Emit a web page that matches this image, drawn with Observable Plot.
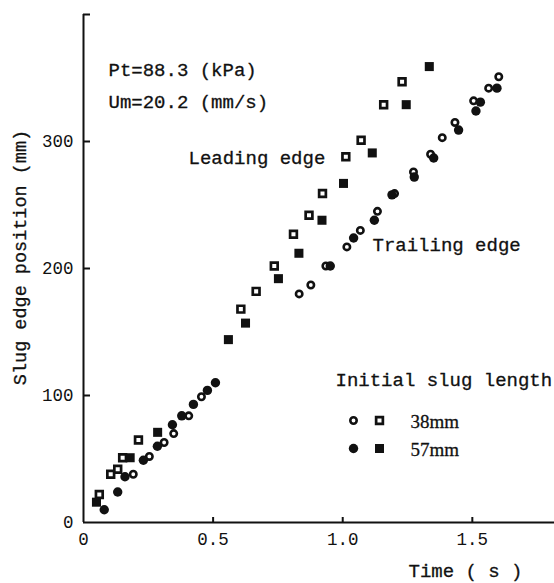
<!DOCTYPE html>
<html>
<head>
<meta charset="utf-8">
<script src="https://cdn.jsdelivr.net/npm/d3@7"></script>
<script src="https://cdn.jsdelivr.net/npm/@observablehq/plot@0.6"></script>
<style>
  html, body { margin: 0; padding: 0; background: #fff; }
  #chart svg { display: block; }
</style>
</head>
<body>
<div id="chart"></div>
<script>
// 38 mm slug, leading edge (open squares)
const lead38T = [0.061, 0.105, 0.132, 0.151, 0.212, 0.607, 0.666, 0.736, 0.810, 0.870, 0.922, 1.012, 1.071, 1.158, 1.229];
const lead38Y = [22, 38, 42, 51, 65, 168, 182, 202, 227, 242, 259, 288, 301, 329, 347];
// 57 mm slug, leading edge (filled squares)
const lead57T = [0.050, 0.180, 0.286, 0.559, 0.625, 0.752, 0.831, 0.920, 1.003, 1.114, 1.245, 1.334];
const lead57Y = [16, 51, 71, 144, 157, 192, 212, 238, 267, 291, 329, 359];
// 38 mm slug, trailing edge (open circles)
const trail38T = [0.192, 0.254, 0.311, 0.348, 0.406, 0.455, 0.832, 0.877, 0.935, 1.016, 1.068, 1.134, 1.200, 1.273, 1.339, 1.384, 1.433, 1.505, 1.563, 1.602];
const trail38Y = [38, 52, 63, 70, 84, 99, 180, 187, 202, 217, 230, 245, 259, 276, 290, 303, 315, 332, 342, 351];
// 57 mm slug, trailing edge (filled circles)
const trail57T = [0.080, 0.132, 0.160, 0.231, 0.285, 0.343, 0.379, 0.424, 0.478, 0.509, 0.952, 1.042, 1.122, 1.190, 1.276, 1.351, 1.447, 1.514, 1.531, 1.595];
const trail57Y = [10, 24, 36, 49, 60, 77, 84, 93, 104, 110, 202, 224, 238, 258, 272, 287, 309, 324, 331, 342];

const xTickValues = [0, 0.5, 1.0, 1.5];
const xTickLabels = ["0", "0.5", "1.0", "1.5"];
const yTickValues = [0, 100, 200, 300];
const yTickLabels = ["0", "100", "200", "300"];
const yTickMarks = [100, 200, 300, 400];

const conditionLines = ["Pt=88.3 (kPa)", "Um=20.2 (mm/s)"];
const edgeLabels = ["Leading edge", "Trailing edge"];
const legendTitle = "Initial slug length";
const legendLabels = ["38mm", "57mm"];
const xLabel = "Time ( s )";
const yLabel = "Slug edge position (mm)";

const toRows = (T, Y) => T.map((t, i) => ({t, y: Y[i]}));
const lead38 = toRows(lead38T, lead38Y);
const lead57 = toRows(lead57T, lead57Y);
const trail38 = toRows(trail38T, trail38Y);
const trail57 = toRows(trail57T, trail57Y);

const mono = "'Liberation Mono', 'DejaVu Sans Mono', monospace";
const serif = "'Liberation Serif', 'DejaVu Serif', serif";
const ink = "#111";

const openCircle = {symbol: "circle", r: 3.2, fill: "white", stroke: ink, strokeWidth: 2.6};
const fillCircle = {symbol: "circle", r: 4.7, fill: ink, stroke: "none"};
const openSquare = {symbol: "square", r: 3.8, fill: "white", stroke: ink, strokeWidth: 2.7};
const fillSquare = {symbol: "square", r: 5.1, fill: ink, stroke: "none"};

const annot = (text, dx, dy, extra = {}) =>
  Plot.text([text], {text: d => d, frameAnchor: "top-left", textAnchor: "start", lineAnchor: "bottom",
    dx, dy, fontSize: 19, fontFamily: mono, fill: ink, stroke: ink, strokeWidth: 0.3, ...extra});

const legendDot = (style, dx, dy) =>
  Plot.dot([0], {frameAnchor: "top-left", dx, dy, ...style});

const chart = Plot.plot({
  width: 554,
  height: 583,
  marginLeft: 83,
  marginRight: 0,
  marginTop: 14,
  marginBottom: 61,
  style: {fontFamily: mono, background: "white", color: ink},
  x: {domain: [0, 1.817]},
  y: {domain: [0, 400]},
  marks: [
    Plot.ruleX([0], {stroke: ink, strokeWidth: 2}),
    Plot.ruleY([0], {stroke: ink, strokeWidth: 2}),
    Plot.axisX({ticks: [0.5, 1.0, 1.5], tickSize: -5, strokeWidth: 2, stroke: ink, fill: "none", label: null}),
    Plot.axisX({ticks: xTickValues, tickSize: 0, tickPadding: 10, label: null, fontSize: 17.5, fontFamily: mono, fill: ink,
      tickFormat: d => xTickLabels[xTickValues.indexOf(d)]}),
    Plot.axisY({ticks: yTickMarks, tickSize: -7, strokeWidth: 2, stroke: ink, fill: "none", label: null}),
    Plot.axisY({ticks: yTickValues, tickSize: 0, tickPadding: 10, label: null, fontSize: 17.5, fontFamily: mono, fill: ink,
      tickFormat: d => yTickLabels[yTickValues.indexOf(d)]}),

    Plot.dot(lead38, {x: "t", y: "y", ...openSquare}),
    Plot.dot(lead57, {x: "t", y: "y", ...fillSquare}),
    Plot.dot(trail38, {x: "t", y: "y", ...openCircle}),
    Plot.dot(trail57, {x: "t", y: "y", ...fillCircle}),

    annot(conditionLines[0], 25, 61),
    annot(conditionLines[1], 25, 93),
    annot(edgeLabels[0], 105, 149),
    annot(edgeLabels[1], 289, 236),
    annot(legendTitle, 252, 371),
    legendDot(openCircle, 270, 406),
    legendDot(openSquare, 296, 406),
    legendDot(fillCircle, 270, 434),
    legendDot(fillSquare, 296, 434),
    annot(legendLabels[0], 327, 413, {fontFamily: serif, fontSize: 19}),
    annot(legendLabels[1], 327, 441, {fontFamily: serif, fontSize: 19}),

    Plot.text([xLabel], {text: d => d, frameAnchor: "bottom-left", textAnchor: "middle", lineAnchor: "bottom",
      dx: 382, dy: 54, fontSize: 19, fontFamily: mono, fill: ink, stroke: ink, strokeWidth: 0.3}),
    Plot.text([yLabel], {text: d => d, frameAnchor: "top-left", textAnchor: "middle", lineAnchor: "middle",
      rotate: -90, dx: -63, dy: 243, fontSize: 18.5, fontFamily: mono, fill: ink, stroke: ink, strokeWidth: 0.3})
  ]
});

document.getElementById("chart").appendChild(chart);
</script>
</body>
</html>
